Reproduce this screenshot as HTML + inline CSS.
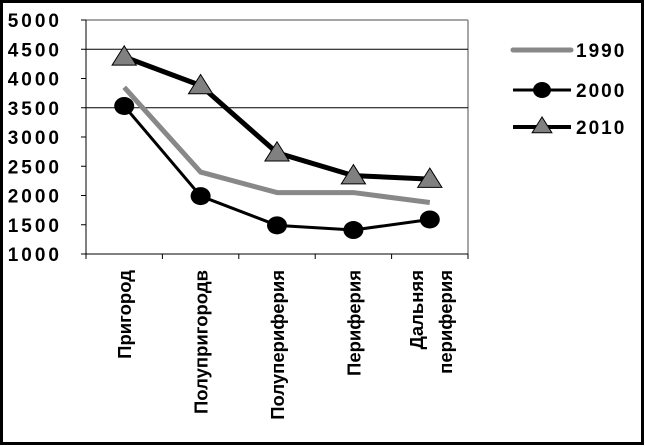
<!DOCTYPE html>
<html><head><meta charset="utf-8"><style>
body{margin:0;background:#fff}
svg{display:block;font-family:"Liberation Sans",Arial,sans-serif;font-weight:bold}
</style></head><body>
<svg id="c" width="645" height="447" viewBox="0 0 645 447">
<rect x="1.5" y="1.5" width="641" height="442" fill="#fff" stroke="#000" stroke-width="3"/>
<g id="plot"></g>
</svg>
<script>
const categories=["Пригород","Полупригородв","Полупериферия","Периферия","Дальняя\nпериферия"];
const s1990=[3850,2400,2050,2050,1880];
const s2000=[3530,1990,1490,1410,1590];
const s2010=[4370,3880,2730,2340,2280];
const yTicks=[1000,1500,2000,2500,3000,3500,4000,4500,5000];
const gridVals=[3500,4500];
const NS="http://www.w3.org/2000/svg";
const g=document.getElementById('plot');
const X0=86,X1=468,Y0=254,Y1=20,yMin=1000,yMax=5000;
const y=v=>Y0-(v-yMin)/(yMax-yMin)*(Y0-Y1);
const step=(X1-X0)/categories.length;
const x=i=>X0+step*(i+0.5);
function mk(t,a){const e=document.createElementNS(NS,t);for(const k in a)e.setAttribute(k,a[k]);g.appendChild(e);return e;}
let e;
e=mk('line',{x1:X0,y1:Y1,x2:X1,y2:Y1,stroke:'#888','stroke-width':1.5});


e=mk('line',{x1:X1,y1:Y1,x2:X1,y2:Y0,stroke:'#888','stroke-width':1.5});


gridVals.forEach(v=>{e=mk('line',{x1:X0,y1:y(v),x2:X1,y2:y(v),stroke:'#000','stroke-width':1});

});
e=mk('line',{x1:X0,y1:Y1,x2:X0,y2:Y0,stroke:'#000','stroke-width':1});


e=mk('line',{x1:X0,y1:Y0,x2:X1,y2:Y0,stroke:'#000','stroke-width':1});


yTicks.forEach(v=>{e=mk('line',{x1:X0-5,y1:y(v),x2:X0,y2:y(v),stroke:'#000'});


e=mk('text',{x:62,y:y(v)+7,'font-size':19,'text-anchor':'end','letter-spacing':'3'});e.textContent=v;

});
for(let i=0;i<=categories.length;i++){e=mk('line',{x1:X0+step*i,y1:Y0,x2:X0+step*i,y2:Y0+5,stroke:'#000'});

}
categories.forEach((c,i)=>{const lines=c.split('\n');const off=(lines.length-1)*14;
lines.forEach((ln,j)=>{e=mk('text',{x:0,y:0,'font-size':18.5,'text-anchor':'end',transform:`translate(${x(i)+7-off+j*29},270) rotate(-90)`});e.textContent=ln;

});});
function line(arr,w,col,name){const p=arr.map((v,i)=>x(i)+','+y(v)).join(' ');
e=mk('polyline',{points:p,fill:'none',stroke:col,'stroke-width':w,'stroke-linejoin':'round'});

}
line(s2010,5,'#000','series-2010-line');
line(s1990,5,'#888','series-1990-line');
line(s2000,3,'#000','series-2000-line');
s2000.forEach((v,i)=>{e=mk('ellipse',{cx:x(i),cy:y(v),rx:10,ry:9,fill:'#000'});

});
function tri(cx,cy,s){return `${cx},${cy-s} ${cx-s*1.1},${cy+s*0.75} ${cx+s*1.1},${cy+s*0.75}`;}
s2010.forEach((v,i)=>{e=mk('polygon',{points:tri(x(i),y(v),11),fill:'#808080',stroke:'#000','stroke-width':1});

});
const lg=[["1990",50],["2000",90],["2010",127]];
e=mk('line',{x1:513,y1:50,x2:571,y2:50,stroke:'#888','stroke-width':5,'stroke-linecap':'round'});


e=mk('line',{x1:513,y1:90,x2:571,y2:90,stroke:'#000','stroke-width':3});


e=mk('ellipse',{cx:542,cy:90,rx:9,ry:8,fill:'#000'});


e=mk('line',{x1:513,y1:127,x2:571,y2:127,stroke:'#000','stroke-width':4});


e=mk('polygon',{points:tri(542,126,9),fill:'#808080',stroke:'#000','stroke-width':1});


lg.forEach(([t,yy])=>{e=mk('text',{x:576,y:yy+7,'font-size':19,'letter-spacing':'2'});e.textContent=t;

});
</script>
</body></html>
